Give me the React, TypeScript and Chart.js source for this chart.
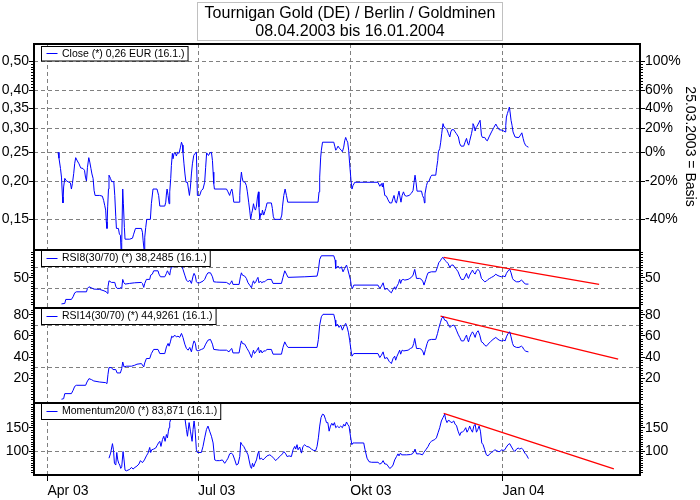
import React, { useEffect, useRef } from 'react';
import { Chart, registerables } from 'chart.js';

Chart.register(...registerables);

// x values are days since 1 Apr 2003
const closeDays = [
  6.4, 7.0, 7.9, 8.5, 9.1, 9.4, 9.8, 10.5, 11.5, 13.1,
  13.9, 14.5, 15.1, 15.9, 16.5, 17.1, 18.1, 19.1, 20.1, 21.5,
  22.4, 23.0, 23.6, 24.2, 25.0, 25.6, 26.3, 26.9, 27.6, 28.2,
  28.8, 31.6, 33.2, 34.0, 34.6, 35.2, 35.6, 36.0, 36.4, 36.9,
  37.2, 38.1, 38.8, 40.1, 40.7, 41.3, 41.7, 42.9, 43.5, 44.1,
  44.5, 44.9, 45.5, 45.9, 46.5, 46.9, 49.7, 51.4, 52.1, 53.2,
  56.8, 57.4, 57.8, 58.4, 58.8, 59.4, 60.0, 62.2, 62.8, 63.8,
  66.2, 67.2, 67.9, 70.9, 71.5, 71.9, 72.3, 72.9, 73.5, 73.9,
  74.5, 74.9, 75.5, 75.9, 76.5, 77.3, 77.9, 78.7, 79.5, 80.4,
  81.0, 81.6, 81.9, 82.5, 83.1, 83.7, 84.6, 85.2, 85.8, 86.4,
  87.0, 87.6, 88.4, 89.2, 90.0, 90.6, 92.0, 93.0, 94.0, 95.0,
  95.6, 96.2, 97.3, 98.2, 99.1, 99.7, 100.1, 100.5, 100.9, 108.2,
  109.1, 110.1, 110.7, 111.4, 111.8, 112.6, 115.8, 116.2, 116.6, 117.2,
  117.6, 118.2, 119.4, 120.2, 120.8, 121.6, 122.2, 122.8, 123.4, 123.9,
  124.5, 125.1, 125.7, 126.3, 126.9, 127.5, 127.8, 128.3, 128.9, 129.5,
  129.9, 130.7, 131.3, 131.9, 132.7, 135.3, 135.9, 136.5, 137.2, 140.8,
  141.6, 142.0, 142.8, 143.6, 144.4, 145.2, 163.5, 164.1, 164.5, 165.1,
  165.5, 166.2, 173.0, 173.6, 174.2, 174.8, 175.6, 176.6, 177.6, 178.2,
  179.0, 179.6, 180.2, 180.8, 181.4, 182.0, 182.6, 183.4, 184.0, 184.6,
  185.7, 199.7, 200.8, 201.8, 202.4, 202.8, 203.8, 204.8, 205.8, 206.8,
  208.0, 208.8, 209.4, 210.3, 210.9, 211.8, 212.4, 213.0, 213.6, 214.3,
  215.1, 215.9, 216.9, 218.5, 219.9, 220.9, 221.5, 222.1, 222.7, 223.3,
  224.5, 226.0, 226.6, 227.4, 227.8, 228.1, 229.0, 229.6, 230.6, 231.6,
  232.2, 234.6, 235.2, 235.8, 236.2, 237.0, 237.6, 238.2, 238.7, 239.0,
  239.6, 240.2, 241.4, 242.3, 243.1, 243.7, 244.3, 245.5, 246.3, 247.1,
  248.3, 249.1, 249.9, 251.5, 252.3, 253.2, 253.9, 254.5, 255.2, 256.2,
  256.8, 257.1, 257.8, 258.4, 259.0, 259.6, 260.6, 261.4, 262.2, 262.8,
  264.2, 265.2, 265.8, 266.8, 268.3, 269.7, 270.9, 271.6, 272.9, 274.5,
  275.7, 276.5, 276.9, 277.3, 277.9, 278.5, 279.1, 279.5, 280.1, 280.7,
  281.3, 282.5, 283.7, 284.9, 285.8, 286.6, 287.4, 288.0, 288.8, 289.4,
  290.6,
];
const closeValues = [
  0.250, 0.239, 0.221, 0.207, 0.178, 0.170, 0.192, 0.205, 0.201, 0.199,
  0.198, 0.189, 0.197, 0.213, 0.230, 0.240, 0.234, 0.229, 0.222, 0.221,
  0.218, 0.207, 0.201, 0.223, 0.240, 0.232, 0.221, 0.212, 0.205, 0.187,
  0.180, 0.180, 0.179, 0.173, 0.167, 0.161, 0.147, 0.140, 0.165, 0.189,
  0.210, 0.205, 0.200, 0.200, 0.180, 0.153, 0.140, 0.140, 0.134, 0.133,
  0.119, 0.126, 0.189, 0.169, 0.141, 0.129, 0.129, 0.130, 0.134, 0.140,
  0.140, 0.136, 0.128, 0.119, 0.131, 0.141, 0.150, 0.150, 0.169, 0.189,
  0.189, 0.180, 0.166, 0.166, 0.171, 0.182, 0.189, 0.180, 0.169, 0.185,
  0.205, 0.226, 0.248, 0.238, 0.248, 0.249, 0.243, 0.250, 0.248, 0.260,
  0.270, 0.264, 0.250, 0.229, 0.212, 0.199, 0.199, 0.189, 0.180, 0.192,
  0.212, 0.229, 0.244, 0.248, 0.250, 0.180, 0.180, 0.187, 0.189, 0.199,
  0.223, 0.249, 0.244, 0.249, 0.250, 0.235, 0.215, 0.197, 0.189, 0.189,
  0.185, 0.180, 0.185, 0.189, 0.185, 0.171, 0.171, 0.180, 0.199, 0.215,
  0.207, 0.200, 0.199, 0.194, 0.185, 0.171, 0.161, 0.150, 0.157, 0.161,
  0.169, 0.163, 0.161, 0.166, 0.178, 0.185, 0.165, 0.150, 0.157, 0.155,
  0.161, 0.155, 0.159, 0.163, 0.170, 0.170, 0.163, 0.153, 0.150, 0.150,
  0.155, 0.165, 0.180, 0.189, 0.180, 0.171, 0.171, 0.185, 0.207, 0.241,
  0.254, 0.270, 0.270, 0.262, 0.254, 0.257, 0.262, 0.257, 0.254, 0.251,
  0.260, 0.273, 0.280, 0.274, 0.270, 0.254, 0.229, 0.202, 0.189, 0.194,
  0.199, 0.199, 0.193, 0.197, 0.192, 0.198, 0.180, 0.179, 0.174, 0.170,
  0.170, 0.176, 0.180, 0.171, 0.170, 0.180, 0.186, 0.178, 0.171, 0.180,
  0.185, 0.180, 0.179, 0.180, 0.183, 0.187, 0.199, 0.210, 0.199, 0.186,
  0.186, 0.186, 0.180, 0.176, 0.170, 0.182, 0.194, 0.199, 0.201, 0.208,
  0.210, 0.210, 0.223, 0.235, 0.251, 0.257, 0.270, 0.288, 0.303, 0.311,
  0.303, 0.302, 0.297, 0.288, 0.281, 0.292, 0.297, 0.297, 0.292, 0.288,
  0.281, 0.267, 0.262, 0.262, 0.270, 0.278, 0.268, 0.264, 0.274, 0.288,
  0.300, 0.311, 0.305, 0.294, 0.302, 0.305, 0.313, 0.319, 0.285, 0.280,
  0.280, 0.274, 0.273, 0.281, 0.292, 0.302, 0.310, 0.305, 0.297, 0.296,
  0.294, 0.292, 0.307, 0.327, 0.336, 0.344, 0.353, 0.340, 0.319, 0.307,
  0.292, 0.281, 0.280, 0.280, 0.285, 0.290, 0.278, 0.270, 0.264, 0.262,
  0.260,
];

const rsi8Days = [
  8.5, 10.5, 11.1, 14.5, 15.5, 16.5, 17.5, 23.6, 24.2, 25.1,
  26.6, 28.0, 31.6, 34.2, 35.6, 36.3, 36.6, 37.2, 38.7, 40.7,
  41.4, 42.1, 43.7, 44.3, 44.9, 45.5, 46.1, 46.9, 49.7, 52.7,
  56.8, 57.4, 58.2, 58.8, 59.8, 61.8, 62.4, 63.4, 64.2, 66.8,
  67.4, 68.3, 70.9, 71.9, 72.5, 73.1, 73.9, 74.3, 75.1, 75.9,
  76.9, 77.9, 78.9, 79.9, 81.0, 81.9, 83.0, 84.0, 85.0, 86.0,
  87.0, 88.0, 88.6, 89.4, 90.0, 90.6, 92.0, 94.0, 95.0, 96.1,
  97.0, 98.5, 99.7, 100.5, 102.1, 108.2, 109.1, 110.1, 110.7, 111.4,
  112.1, 115.8, 116.6, 117.2, 117.8, 119.2, 120.2, 121.2, 122.2, 123.3,
  123.9, 124.5, 125.1, 125.9, 126.5, 127.2, 127.8, 128.7, 129.5, 130.3,
  131.3, 132.3, 133.3, 135.3, 136.3, 141.4, 142.3, 143.4, 144.4, 145.4,
  155.5, 162.9, 163.7, 164.5, 165.5, 173.0, 173.8, 174.2, 175.6, 176.6,
  177.6, 178.6, 179.6, 180.7, 181.3, 182.2, 183.1, 183.7, 184.3, 185.1,
  199.7, 200.8, 201.8, 202.8, 203.8, 205.2, 206.4, 207.8, 208.8, 209.8,
  210.4, 211.2, 212.1, 212.8, 213.4, 214.0, 214.9, 215.9, 217.9, 218.9,
  219.9, 220.9, 221.9, 223.0, 224.9, 226.0, 226.9, 227.5, 228.6, 229.4,
  230.0, 232.0, 234.6, 235.7, 236.4, 237.4, 238.2, 239.0, 240.0, 241.1,
  242.0, 243.1, 244.1, 245.1, 246.1, 247.1, 248.1, 249.1, 250.1, 251.5,
  252.5, 253.2, 253.8, 254.4, 255.1, 256.2, 256.8, 257.6, 258.4, 259.2,
  260.2, 261.2, 262.2, 263.2, 264.2, 265.2, 266.2, 267.2, 268.3, 269.7,
  270.9, 271.6, 272.9, 274.3, 275.7, 276.5, 277.3, 278.3, 279.3, 280.1,
  281.0, 281.7, 283.4, 284.9, 286.4, 287.0, 287.8, 289.0, 290.6,
];
const rsi8Values = [
  0.5, 1.4, 9.0, 9.0, 14.0, 21.6, 23.5, 23.5, 30.0, 33.0,
  31.1, 28.7, 28.1, 25.4, 23.5, 20.5, 33.0, 44.5, 41.4, 41.4,
  33.0, 30.0, 30.0, 31.9, 30.0, 47.1, 41.4, 38.2, 39.5, 40.7,
  41.4, 39.5, 31.9, 39.5, 47.1, 47.1, 55.3, 57.2, 63.5, 63.5,
  57.2, 52.1, 52.1, 58.6, 63.5, 59.7, 55.3, 63.5, 72.5, 70.0,
  74.4, 72.5, 71.1, 74.4, 74.4, 66.2, 55.3, 45.8, 42.6, 45.8,
  39.5, 53.4, 58.6, 53.4, 42.6, 40.7, 40.7, 43.9, 47.1, 55.3,
  59.7, 59.7, 52.1, 42.6, 42.0, 41.4, 39.5, 37.6, 40.7, 44.5,
  37.6, 37.6, 52.1, 59.7, 55.3, 53.4, 49.0, 40.7, 36.3, 31.1,
  39.5, 44.5, 39.5, 42.6, 47.1, 51.0, 40.7, 43.9, 40.7, 42.6,
  42.6, 45.8, 47.1, 47.1, 39.5, 39.5, 51.0, 63.5, 57.2, 51.0,
  52.1, 53.4, 64.9, 85.2, 92.1, 92.1, 83.9, 68.1, 72.5, 68.1,
  71.1, 61.6, 68.1, 74.4, 68.1, 57.2, 45.8, 33.0, 30.0, 36.3,
  36.3, 30.0, 34.4, 40.7, 28.1, 30.0, 25.4, 21.6, 28.1, 33.0,
  28.1, 34.4, 39.5, 47.1, 39.5, 45.8, 47.1, 45.8, 47.1, 49.0,
  51.0, 55.3, 66.2, 49.0, 49.0, 47.1, 42.6, 36.3, 47.1, 55.3,
  59.7, 61.6, 61.6, 71.1, 78.8, 82.6, 87.1, 89.1, 83.9, 80.7,
  77.6, 70.0, 74.4, 74.4, 70.0, 66.2, 61.6, 53.4, 47.1, 47.1,
  53.4, 58.6, 52.1, 49.0, 55.3, 61.6, 64.9, 59.7, 57.2, 63.5,
  66.2, 61.6, 49.0, 45.8, 42.6, 43.9, 47.1, 49.0, 51.0, 53.4,
  57.2, 55.3, 53.4, 52.1, 53.4, 52.1, 58.6, 63.5, 66.2, 59.7,
  49.0, 45.8, 42.6, 42.6, 45.8, 44.5, 40.7, 38.2, 38.2,
];

const rsi14Days = [
  8.5, 9.8, 10.5, 14.5, 15.5, 16.5, 17.5, 23.1, 23.9, 25.1,
  26.6, 28.0, 31.6, 35.2, 36.0, 36.6, 37.2, 38.7, 39.6, 41.3,
  42.1, 44.1, 44.9, 45.5, 46.3, 47.7, 50.8, 52.7, 54.1, 56.8,
  58.2, 58.8, 59.8, 61.8, 62.8, 64.2, 66.8, 67.9, 70.9, 71.9,
  72.9, 73.5, 74.3, 75.1, 75.9, 76.9, 77.9, 78.9, 79.9, 81.0,
  81.9, 83.0, 84.0, 85.0, 86.0, 87.0, 88.0, 88.6, 89.4, 90.0,
  91.0, 93.0, 94.4, 95.6, 97.0, 98.5, 99.7, 100.5, 104.1, 108.2,
  109.7, 110.7, 111.4, 112.1, 115.8, 116.6, 117.2, 117.8, 119.2, 120.6,
  121.8, 123.3, 123.9, 124.5, 125.1, 125.9, 126.6, 127.5, 128.1, 128.9,
  129.7, 130.7, 131.7, 132.7, 135.3, 136.3, 141.4, 142.3, 143.4, 144.4,
  145.4, 162.9, 163.7, 164.5, 165.5, 166.5, 173.0, 173.8, 174.2, 175.2,
  176.2, 177.2, 178.2, 179.2, 180.2, 181.0, 181.9, 182.6, 183.4, 184.0,
  185.1, 199.7, 200.8, 201.8, 202.8, 203.8, 205.2, 206.4, 207.8, 208.8,
  209.8, 210.4, 211.2, 212.1, 212.8, 213.4, 214.3, 215.3, 217.9, 219.3,
  220.5, 221.3, 221.9, 223.0, 224.9, 226.0, 226.9, 227.5, 228.4, 229.4,
  230.2, 232.0, 234.6, 235.7, 236.4, 237.4, 238.2, 239.0, 240.0, 241.1,
  242.0, 243.1, 244.1, 245.1, 246.1, 247.1, 248.1, 249.1, 250.1, 251.5,
  252.5, 253.2, 253.8, 254.4, 255.1, 256.2, 256.8, 257.6, 258.4, 259.2,
  260.2, 261.2, 262.2, 263.2, 264.2, 265.2, 266.2, 267.6, 269.2, 270.9,
  271.6, 272.9, 274.3, 275.7, 276.5, 277.3, 278.3, 279.3, 280.1, 281.0,
  281.7, 283.4, 284.9, 286.4, 287.0, 287.8, 289.0, 290.6,
];
const rsi14Values = [
  0.0, 0.5, 5.3, 5.3, 8.4, 12.2, 13.2, 13.2, 16.3, 19.5,
  18.6, 17.3, 16.3, 15.7, 14.8, 23.6, 30.0, 30.0, 28.1, 28.1,
  24.9, 24.9, 29.1, 35.3, 30.6, 31.3, 31.3, 32.2, 33.2, 33.8,
  30.6, 34.4, 38.6, 38.6, 43.3, 47.2, 47.2, 43.3, 43.3, 49.6,
  52.9, 50.3, 54.4, 59.8, 58.6, 60.8, 59.1, 59.8, 58.6, 62.4,
  58.6, 52.2, 48.1, 46.5, 49.1, 44.9, 52.2, 55.3, 52.9, 46.5,
  45.8, 47.2, 48.1, 52.2, 56.0, 56.7, 52.2, 47.2, 46.5, 46.5,
  44.9, 47.2, 48.1, 43.9, 43.9, 51.2, 55.3, 52.9, 52.2, 48.1,
  44.9, 39.5, 43.3, 46.5, 43.3, 44.9, 46.5, 49.1, 43.9, 46.5,
  43.9, 45.8, 45.8, 47.2, 47.2, 42.7, 42.7, 49.1, 54.4, 51.2,
  49.1, 49.1, 56.7, 70.3, 78.2, 80.5, 80.5, 75.0, 69.3, 71.2,
  68.1, 70.3, 65.5, 69.3, 71.9, 68.7, 63.0, 56.0, 46.5, 40.8,
  43.3, 43.3, 39.5, 41.8, 44.9, 38.6, 39.5, 36.0, 33.8, 38.6,
  40.8, 37.0, 40.8, 43.9, 46.5, 42.7, 46.5, 45.8, 46.5, 48.1,
  49.1, 52.9, 57.6, 48.1, 48.1, 47.2, 44.9, 41.8, 47.2, 52.9,
  56.0, 56.7, 56.7, 62.4, 67.1, 72.5, 76.7, 78.2, 75.0, 74.4,
  71.2, 68.1, 69.3, 70.3, 69.3, 65.5, 61.7, 58.6, 55.3, 55.3,
  58.6, 60.8, 56.7, 54.4, 58.6, 62.4, 63.9, 61.7, 58.6, 63.0,
  64.9, 60.8, 54.4, 53.4, 51.2, 50.3, 52.2, 54.4, 56.7, 58.6,
  57.6, 56.0, 55.3, 56.0, 55.3, 59.1, 62.4, 63.9, 59.1, 52.9,
  50.3, 49.1, 49.1, 50.3, 49.6, 47.2, 45.5, 44.9,
];

const momDays = [
  37.2, 38.2, 39.3, 39.9, 40.5, 41.3, 41.9, 42.5, 43.1, 43.7,
  44.3, 44.9, 45.7, 46.3, 46.9, 47.7, 49.7, 50.8, 51.7, 52.9,
  54.1, 55.3, 56.2, 57.4, 58.6, 59.8, 60.8, 61.8, 62.4, 63.0,
  64.2, 65.4, 66.2, 67.1, 67.9, 68.6, 69.5, 70.3, 71.1, 71.9,
  72.5, 73.1, 73.5, 73.9, 74.5, 76.9, 78.7, 80.5, 82.3, 84.0,
  84.6, 85.6, 86.4, 87.4, 88.0, 88.6, 89.2, 90.0, 90.6, 93.0,
  94.0, 95.0, 96.1, 97.0, 98.0, 99.1, 100.1, 101.1, 102.1, 104.1,
  105.7, 107.1, 108.2, 109.1, 110.1, 111.2, 112.1, 113.2, 114.2, 115.2,
  116.2, 116.8, 117.6, 118.6, 119.4, 120.2, 121.2, 121.8, 122.7, 123.3,
  123.9, 124.6, 125.4, 126.3, 127.1, 127.7, 128.3, 129.3, 130.3, 131.3,
  132.7, 134.3, 135.3, 136.7, 137.9, 139.3, 140.8, 142.0, 142.8, 144.0,
  144.8, 146.0, 147.4, 148.4, 149.4, 150.0, 150.8, 151.4, 152.4, 153.5,
  154.4, 155.5, 156.5, 158.1, 159.5, 160.9, 162.1, 162.9, 163.7, 164.5,
  165.3, 166.2, 167.1, 168.0, 168.6, 169.4, 170.2, 171.0, 171.8, 172.6,
  173.4, 174.2, 175.2, 176.2, 177.2, 178.2, 179.0, 179.8, 180.7, 181.4,
  182.2, 183.1, 183.9, 184.6, 185.7, 191.1, 191.9, 193.1, 194.3, 195.8,
  199.7, 200.8, 201.8, 202.8, 203.8, 204.8, 205.8, 206.8, 207.8, 208.8,
  209.8, 210.9, 211.8, 212.4, 213.3, 214.0, 216.9, 219.3, 220.5, 221.5,
  222.1, 223.0, 224.9, 226.6, 227.4, 228.6, 230.0, 231.0, 232.0, 233.0,
  234.0, 235.0, 236.0, 237.0, 238.0, 239.0, 240.0, 240.6, 241.4, 242.4,
  243.5, 244.4, 245.5, 246.3, 247.1, 248.1, 249.1, 249.9, 250.7, 251.9,
  252.7, 253.5, 254.4, 255.1, 255.9, 256.8, 257.6, 258.4, 259.2, 260.0,
  260.8, 261.6, 262.4, 263.2, 264.2, 265.2, 266.2, 267.2, 268.3, 269.2,
  270.2, 271.3, 272.3, 273.3, 274.5, 275.3, 276.3, 277.3, 278.3, 279.3,
  280.4, 281.4, 282.4, 283.4, 284.4, 285.4, 286.4, 287.4, 288.4, 289.4,
  290.6,
];
const momValues = [
  84.8, 95.7, 115.9, 102.8, 73.9, 70.2, 97.0, 81.1, 73.9, 70.2,
  63.0, 66.5, 99.1, 81.1, 59.3, 57.8, 60.9, 65.2, 61.5, 65.2,
  68.0, 72.4, 79.6, 75.2, 81.1, 89.8, 95.7, 107.8, 97.0, 102.8,
  104.3, 106.5, 111.5, 117.4, 120.9, 110.0, 124.6, 131.7, 120.9, 135.4,
  128.3, 142.6, 150.0, 160.9, 168.0, 185.0, 190.0, 181.0, 190.0, 146.3,
  131.7, 160.9, 142.6, 120.9, 146.3, 164.4, 146.3, 102.8, 97.0, 97.0,
  110.0, 128.3, 146.3, 153.5, 142.6, 131.7, 117.4, 81.1, 79.6, 79.6,
  81.1, 73.9, 79.6, 84.8, 94.1, 95.7, 92.0, 81.1, 70.2, 72.4,
  88.3, 118.7, 113.7, 110.0, 104.3, 99.1, 92.0, 81.1, 66.5, 63.0,
  73.9, 66.5, 73.9, 81.1, 94.1, 99.1, 82.6, 84.8, 81.1, 84.8,
  89.8, 92.0, 89.8, 84.8, 79.6, 84.8, 89.8, 94.1, 99.1, 94.1,
  88.3, 89.8, 88.3, 102.8, 110.0, 104.3, 113.7, 102.8, 108.7, 95.7,
  110.0, 113.7, 110.0, 108.7, 104.3, 101.3, 101.3, 110.0, 128.3, 153.5,
  171.7, 178.9, 177.4, 168.0, 160.9, 160.9, 142.6, 153.5, 159.4, 155.0,
  160.9, 150.0, 153.5, 150.0, 153.5, 150.0, 157.2, 153.5, 162.2, 157.2,
  153.5, 131.7, 113.7, 117.4, 117.4, 117.4, 102.8, 84.8, 77.4, 76.1,
  76.1, 72.4, 73.9, 79.6, 72.4, 72.4, 68.0, 63.0, 65.2, 70.2,
  81.1, 88.3, 94.1, 89.8, 95.7, 92.0, 92.0, 92.6, 94.1, 99.1,
  104.3, 94.1, 94.1, 92.0, 97.0, 102.8, 110.0, 117.4, 120.9, 123.0,
  124.6, 128.3, 139.1, 150.0, 164.4, 171.7, 178.9, 168.0, 160.9, 166.5,
  162.2, 160.9, 164.4, 157.2, 155.0, 142.6, 133.3, 140.4, 140.4, 144.8,
  150.0, 140.4, 146.3, 153.5, 146.3, 140.4, 153.5, 157.2, 140.4, 146.3,
  153.5, 142.6, 117.4, 113.7, 102.8, 92.0, 89.8, 94.1, 97.0, 99.1,
  102.8, 101.3, 99.1, 99.1, 102.8, 101.3, 102.8, 108.7, 113.7, 115.9,
  108.7, 102.8, 99.1, 104.3, 106.5, 104.3, 106.5, 102.8, 95.7, 92.0,
  84.0,
];

// red trend lines (start, end)
const trendRsi8Days = [239.4, 333.3];
const trendRsi8Values = [89.1, 37.6];
const trendRsi14Days = [237.5, 344.8];
const trendRsi14Values = [78.9, 37.9];
const trendMomDays = [239.4, 342.2];
const trendMomValues = [180.4, 62.2];

const xTickDays = [0, 91, 183, 275];
const xTickLabels = ['Apr 03', 'Jul 03', 'Okt 03', 'Jan 04'];
const priceTicks = [0.15, 0.2, 0.25, 0.3, 0.35, 0.4, 0.5];
const basisPrice = 0.25;
const rsiBands = [30, 70];
const rsi8Labels = [50];
const rsi14Labels = [20, 40, 60, 80];
const momLabels = [100, 150];
const momBands = [100];

const titleLine1 = 'Tournigan Gold (DE) / Berlin / Goldminen';
const titleLine2 = '08.04.2003 bis 16.01.2004';
const legendTexts = [
  'Close (*) 0,26 EUR (16.1.)',
  'RSI8(30/70) (*) 38,2485 (16.1.)',
  'RSI14(30/70) (*) 44,9261 (16.1.)',
  'Momentum20/0 (*) 83,871 (16.1.)',
];
const basisLabel = '25.03.2003 = Basis';

const FONT = '"Liberation Sans", Arial, sans-serif';
const GRID = '#808080';
const NONE = 'rgba(0,0,0,0)';
const BLUE = '#0000ff';
const RED = '#ff0000';

const pts = (xs: number[], ys: number[]) => xs.map((x, i) => ({ x, y: ys[i] }));

const fmtPrice = (v: number) => v.toFixed(2).replace('.', ',');
const fmtPct = (v: number) => Math.round((v / basisPrice - 1) * 100) + '%';
const fmtInt = (v: number) => String(v);

function yAxis(
  position: 'left' | 'right',
  weight: number,
  stackWeight: number,
  type: string,
  min: number,
  max: number,
  tickVals: number[],
  labelVals: number[],
  gridVals: number[],
  fmt: (v: number) => string
) {
  const isLeft = position === 'left';
  return {
    type,
    position,
    stack: 'panels',
    stackWeight,
    weight,
    min,
    max,
    bounds: 'data',
    afterBuildTicks: (scale: any) => {
      scale.ticks = tickVals.map((v) => ({ value: v }));
    },
    afterFit: (scale: any) => {
      scale.width = isLeft ? 34 : 60;
    },
    ticks: {
      autoSkip: false,
      padding: 0,
      color: '#000',
      font: { size: 14, family: FONT },
      callback: (v: number) => (labelVals.includes(v) ? fmt(v) : ''),
    },
    grid: {
      drawOnChartArea: isLeft,
      drawTicks: true,
      lineWidth: 1,
      tickLength: 5,
      tickWidth: 1,
      tickBorderDash: [],
      color: (c: any) => (c.tick && gridVals.includes(c.tick.value) ? GRID : NONE),
      tickColor: (c: any) => (c.tick && labelVals.includes(c.tick.value) ? '#000' : NONE),
    },
    border: { display: false, dash: [4, 3] },
  };
}

const minorTicks: { axis: string; values: number[] }[] = [
  { axis: 'yP', values: [0.41, 0.42, 0.43, 0.44, 0.45, 0.46, 0.47, 0.48, 0.49] },
  { axis: 'yR8', values: Array.from({ length: 21 }, (_, i) => i * 5).filter((v) => v !== 50) },
  { axis: 'yR14', values: Array.from({ length: 35 }, (_, i) => i * 2.5).filter((v) => !rsi14Labels.includes(v)) },
  { axis: 'yM', values: Array.from({ length: 31 }, (_, i) => 50 + i * 5).filter((v) => !momLabels.includes(v)) },
];

const decorPlugin = {
  id: 'decor',
  beforeDraw(chart: any) {
    const ctx = chart.ctx;
    ctx.save();
    ctx.fillStyle = '#ffffff';
    ctx.fillRect(0, 0, chart.width, chart.height);
    ctx.restore();
  },
  afterDraw(chart: any) {
    const ctx = chart.ctx;
    const { left, right, top, bottom } = chart.chartArea;
    const s = chart.scales;
    ctx.save();

    // minor ticks on both sides
    ctx.strokeStyle = '#000';
    ctx.lineWidth = 1;
    ctx.beginPath();
    minorTicks.forEach((m) => {
      const sc = s[m.axis];
      m.values.forEach((v) => {
        const y = Math.round(sc.getPixelForValue(v)) + 0.5;
        if (y < sc.top + 1 || y > sc.bottom - 1) return;
        ctx.moveTo(left - 3, y);
        ctx.lineTo(left, y);
        ctx.moveTo(right, y);
        ctx.lineTo(right + 3, y);
      });
    });
    ctx.stroke();

    // legend boxes
    const panels = ['yP', 'yR8', 'yR14', 'yM'];
    ctx.font = `10.5px ${FONT}`;
    ctx.textBaseline = 'middle';
    ctx.textAlign = 'left';
    panels.forEach((id, i) => {
      const pTop = s[id].top;
      const boxTop = i === 0 ? pTop + 2.5 : pTop - 0.5;
      const boxH = i === 0 ? 14.5 : 17;
      const midY = boxTop + boxH / 2 + (i === 0 ? 0 : 0.5);
      const text = legendTexts[i];
      const tw = ctx.measureText(text).width;
      const x0 = 41.5;
      const tx = 62;
      const w = tx + tw + 3.5 - x0;
      ctx.fillStyle = '#ffffff';
      ctx.fillRect(x0, boxTop, w, boxH);
      ctx.strokeStyle = '#000';
      ctx.lineWidth = 1;
      ctx.strokeRect(x0, boxTop, w, boxH);
      ctx.strokeStyle = BLUE;
      ctx.beginPath();
      ctx.moveTo(46.5, Math.round(midY) - 0.5);
      ctx.lineTo(57.5, Math.round(midY) - 0.5);
      ctx.stroke();
      ctx.fillStyle = '#000';
      ctx.fillText(text, tx, midY);
    });

    // frame and separators
    ctx.strokeStyle = '#000';
    ctx.lineWidth = 2;
    ctx.strokeRect(left, top, right - left, bottom - top);
    ctx.beginPath();
    ['yR8', 'yR14', 'yM'].forEach((id) => {
      const y = s[id].top;
      ctx.moveTo(left, y);
      ctx.lineTo(right, y);
    });
    ctx.stroke();

    // title box
    ctx.lineWidth = 1;
    ctx.strokeStyle = '#c0c0c0';
    ctx.strokeRect(197.5, 2.5, 305, 38);
    ctx.fillStyle = '#000';
    ctx.font = `16px ${FONT}`;
    ctx.textAlign = 'center';
    ctx.textBaseline = 'alphabetic';
    ctx.fillText(titleLine1, 350, 18);
    ctx.fillText(titleLine2, 350, 36);

    // right axis title
    ctx.save();
    ctx.translate(690, 146.5);
    ctx.rotate(Math.PI / 2);
    ctx.font = `14px ${FONT}`;
    ctx.textAlign = 'center';
    ctx.textBaseline = 'middle';
    ctx.fillText(basisLabel, 0, 0);
    ctx.restore();

    ctx.restore();
  },
};

export default function App() {
  const ref = useRef<HTMLCanvasElement | null>(null);

  useEffect(() => {
    if (!ref.current) return;
    Chart.defaults.font.family = FONT;
    const line = (data: any[], yAxisID: string, color: string, width: number) => ({
      data,
      xAxisID: 'x',
      yAxisID,
      borderColor: color,
      backgroundColor: color,
      borderWidth: width,
      pointRadius: 0,
      tension: 0,
      fill: false,
    });

    const chart = new Chart(ref.current, {
      type: 'line',
      data: {
        datasets: [
          line(pts(closeDays, closeValues), 'yP', BLUE, 1),
          line(pts(rsi8Days, rsi8Values), 'yR8', BLUE, 1),
          line(pts(rsi14Days, rsi14Values), 'yR14', BLUE, 1),
          line(pts(momDays, momValues), 'yM', BLUE, 1),
          line(pts(trendRsi8Days, trendRsi8Values), 'yR8', RED, 1.3),
          line(pts(trendRsi14Days, trendRsi14Values), 'yR14', RED, 1.3),
          line(pts(trendMomDays, trendMomValues), 'yM', RED, 1.3),
        ] as any,
      },
      options: {
        responsive: false,
        animation: false,
        devicePixelRatio: 1,
        events: [],
        layout: { padding: { top: 44, left: 0, right: 0, bottom: 0 } },
        plugins: {
          legend: { display: false },
          title: { display: false },
          tooltip: { enabled: false },
        },
        scales: {
          x: {
            type: 'linear',
            position: 'bottom',
            min: -8.1,
            max: 358,
            bounds: 'data',
            afterBuildTicks: (scale: any) => {
              scale.ticks = xTickDays.map((v) => ({ value: v }));
            },
            afterFit: (scale: any) => {
              scale.height = 25;
            },
            ticks: {
              autoSkip: false,
              maxRotation: 0,
              minRotation: 0,
              align: 'start',
              padding: 2,
              color: '#000',
              font: { size: 14, family: FONT },
              callback: (v: number) => {
                const i = xTickDays.indexOf(v);
                return i >= 0 ? xTickLabels[i] : '';
              },
            },
            grid: {
              color: GRID,
              lineWidth: 1,
              tickLength: 6,
              tickWidth: 1,
              tickColor: '#000',
              tickBorderDash: [],
            },
            border: { display: false, dash: [4, 3] },
          },
          yP: yAxis('left', 4, 206, 'logarithmic', 0.1188, 0.5704, priceTicks, priceTicks, priceTicks, fmtPrice),
          yR8: yAxis('left', 3, 58, 'linear', -7.3, 103.1, [30, 50, 70], rsi8Labels, rsiBands, fmtInt),
          yR14: yAxis('left', 2, 95, 'linear', -3.6, 86.5, [20, 30, 40, 60, 70, 80], rsi14Labels, rsiBands, fmtInt),
          yM: yAxis('left', 1, 72, 'linear', 48.9, 202.8, [100, 150], momLabels, momBands, fmtInt),
          yPr: yAxis('right', 1, 206, 'logarithmic', 0.1188, 0.5704, priceTicks, priceTicks, [], fmtPct),
          yR8r: yAxis('right', 2, 58, 'linear', -7.3, 103.1, rsi8Labels, rsi8Labels, [], fmtInt),
          yR14r: yAxis('right', 3, 95, 'linear', -3.6, 86.5, rsi14Labels, rsi14Labels, [], fmtInt),
          yMr: yAxis('right', 4, 72, 'linear', 48.9, 202.8, momLabels, momLabels, [], fmtInt),
        } as any,
      },
      plugins: [decorPlugin],
    });
    return () => chart.destroy();
  }, []);

  return (
    <div style={{ position: 'absolute', left: 0, top: 0, width: 700, height: 500 }}>
      <canvas ref={ref} width={700} height={500} style={{ width: 700, height: 500, display: 'block' }} />
    </div>
  );
}
